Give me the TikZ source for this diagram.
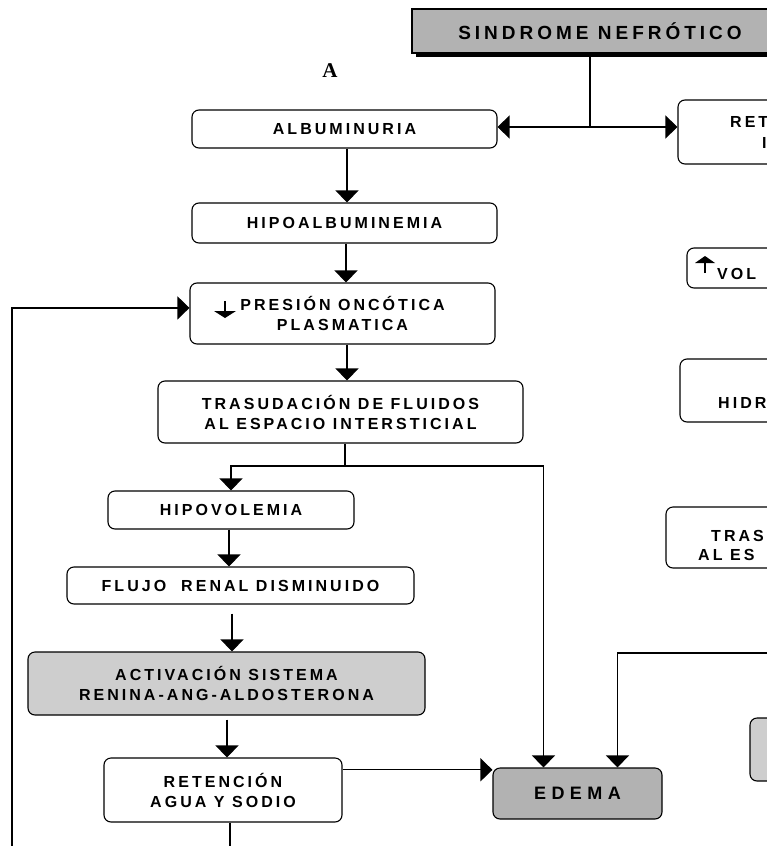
\documentclass[tikz,border=0pt]{standalone}
\usepackage{fontspec}
\setmainfont{Liberation Sans}
\newfontfamily\serifA{Liberation Serif}
\newfontfamily\spf[LetterSpace=19]{Liberation Sans}
\usetikzlibrary{arrows.meta,calc}
\definecolor{darkg}{RGB}{178,178,178}
\definecolor{lightg}{RGB}{206,206,206}
\tikzset{
  box/.style={draw, line width=1.1pt, rounded corners=7pt, align=center, inner sep=0pt,
    font=\spf\bfseries\fontsize{16}{20}\selectfont},
  txt/.style={inner sep=0pt, font=\spf\bfseries\fontsize{16}{20}\selectfont},
  arr/.style={-{Triangle[width=23pt,length=12pt]}, line width=1.2pt},
  ln/.style={line width=1.2pt},
}
\begin{document}
\begin{tikzpicture}[x=1pt,y=-1pt]
\useasboundingbox (0,0) rectangle (766,846);
% title box with shadow
\fill[black] (416,13) rectangle (792,57);
\node[box, rounded corners=0pt, fill=darkg, minimum width=376pt, minimum height=44pt,
  font=\spf\bfseries\fontsize{19}{20}\selectfont\addfontfeature{LetterSpace=21}] (sn) at (600,31) {SINDROME NEFRÓTICO};
\node[font=\serifA\bfseries\fontsize{21}{22}\selectfont, inner sep=0pt] (lblA) at (330,71) {A};
% left column
\node[box, minimum width=305pt, minimum height=38pt] (alb) at (344.5,129) {ALBUMINURIA};
\node[box, minimum width=305pt, minimum height=40pt] (hipo) at (344.5,223) {HIPOALBUMINEMIA};
\node[box, minimum width=305pt, minimum height=61pt] (pres) at (342.5,313.5) {PRESIÓN ONCÓTICA\\PLASMATICA};
\node[box, minimum width=365pt, minimum height=62pt] (tras) at (340.5,412) {TRASUDACIÓN DE FLUIDOS\\AL ESPACIO INTERSTICIAL};
\node[box, minimum width=246pt, minimum height=38pt] (hipov) at (231,510) {HIPOVOLEMIA};
\node[box, minimum width=347pt, minimum height=37pt] (flujo) at (240.5,585.5) {FLUJO \ RENAL DISMINUIDO};
\node[box, fill=lightg, minimum width=397pt, minimum height=63pt] (act) at (226.5,683.5) {ACTIVACIÓN SISTEMA\\RENINA-ANG-ALDOSTERONA};
\node[box, minimum width=238pt, minimum height=64pt] (ret) at (223,790) {RETENCIÓN\\AGUA Y SODIO};
\node[box, fill=darkg, minimum width=169pt, minimum height=51pt,
  font=\spf\bfseries\fontsize{18}{20}\selectfont\addfontfeature{LetterSpace=30}] (edema) at (577.5,793.5) {EDEMA};
% right column (partially visible)
\node[box, minimum width=222pt, minimum height=64pt] (retR) at (789,132) {};
\node[txt, anchor=base west] (tRet1) at (730,127) {RET};
\node[txt, anchor=base west] (tRet2) at (762,148) {I};
\node[box, minimum width=213pt, minimum height=40pt] (vol) at (793.5,268) {};
\node[txt, anchor=base west] (tVol) at (717,279) {VOL};
\node[box, minimum width=220pt, minimum height=63pt] (hidr) at (790,390.5) {};
\node[txt, anchor=base west] (tHidr) at (718,408) {HIDR};
\node[box, minimum width=234pt, minimum height=61pt] (trasR) at (783,537.5) {};
\node[txt, anchor=base west] (tTras1) at (711,541) {TRAS};
\node[txt, anchor=base west] (tTras2) at (698,560) {AL ES};
\node[box, fill=lightg, minimum width=150pt, minimum height=63pt] (grayR) at (825,749.5) {};
% small arrows in text
\draw[ln] (225,301) -- (225,312);
\fill (214,311) -- (236,311) -- (225,318) -- cycle;
\draw[ln] (705,273) -- (705,262);
\fill (695,263) -- (715,263) -- (705,256) -- cycle;
% connectors
\coordinate (j1) at (590,127);
\draw[ln] (sn.south -| j1) -- (j1);
\draw[arr] (j1) -- (j1 -| alb.east);
\draw[arr] (j1) -- (j1 -| retR.west);
\draw[arr] (alb.south -| 347,0) -- (hipo.north -| 347,0);
\draw[arr] (hipo.south -| 346,0) -- (pres.north -| 346,0);
\draw[arr] (pres.south -| 347,0) -- (tras.north -| 347,0);
\coordinate (j2) at (345,466);
\coordinate (ein1) at ($(edema.north west)!0.3!(edema.north east)$);
\coordinate (ein2) at ($(edema.north west)!0.735!(edema.north east)$);
\draw[ln] (tras.south -| j2) -- (j2);
\draw[arr] (j2) -| (hipov.north);
\draw[arr] (j2) -| (ein1);
\draw[arr] (hipov.south -| 229,0) -- (flujo.north -| 229,0);
\draw[arr] ($(flujo.south -| 232,0)+(0,9)$) -- (act.north -| 232,0);
\draw[arr] ($(act.south -| 227,0)+(0,4)$) -- (ret.north -| 227,0);
\coordinate (bot1) at (230,846);
\draw[ln] (ret.south -| bot1) -- (bot1);
\coordinate (r1) at ($(ret.north east)!0.19!(ret.south east)$);
\draw[arr] (r1) -- (r1 -| edema.west);
\coordinate (fb) at (12,850);
\coordinate (p1) at ($(pres.north west)!0.41!(pres.south west)$);
\draw[arr] (fb) |- (p1);
\coordinate (rin) at (790,653);
\draw[arr] (rin) -| (ein2);
\end{tikzpicture}
\end{document}
